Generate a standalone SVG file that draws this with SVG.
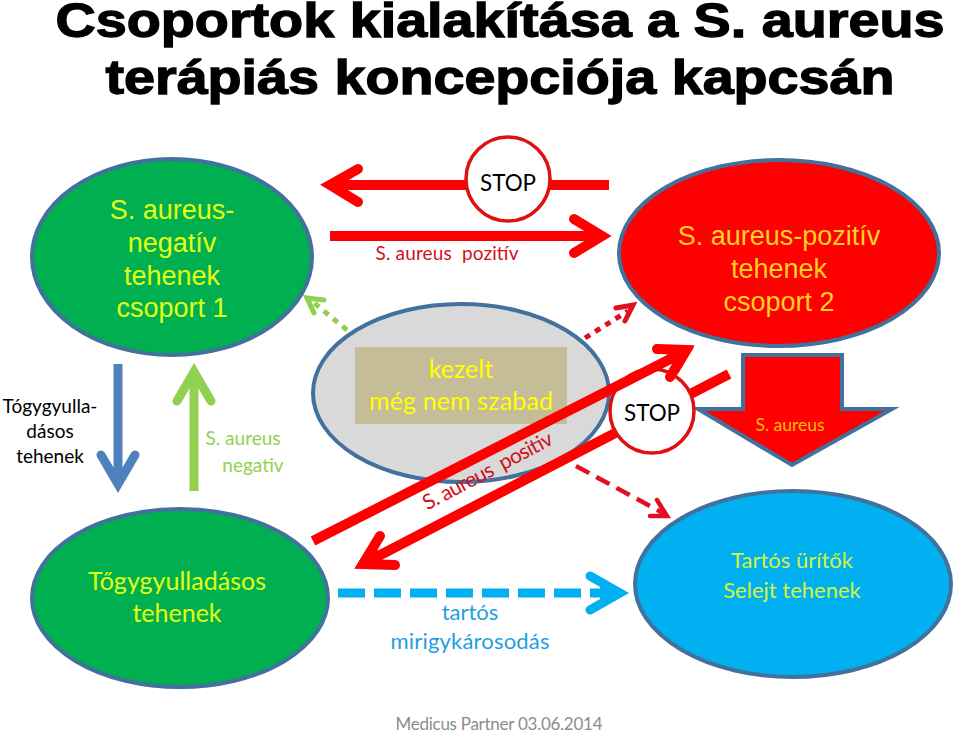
<svg xmlns="http://www.w3.org/2000/svg" width="959" height="733" viewBox="0 0 959 733">
<defs><style>
text{text-anchor:middle}
.t{font:bold 48px "Liberation Sans",Arial,sans-serif;fill:#000;stroke:#000;stroke-width:1.3}
.a{font:27px "Liberation Sans",Arial,sans-serif}
.c{font-family:Lato,"Open Sans",sans-serif}
.e{stroke:#41719c;stroke-width:4}
.r{fill:none;stroke:#f00;stroke-width:10}
.h{fill:none;stroke-linecap:round;stroke-linejoin:miter;stroke-miterlimit:10}
.s{fill:#fff;stroke:#e01010;stroke-width:3.5}
</style></defs>
<rect width="959" height="733" fill="#fff"/>
<text class="t" x="500" y="37" textLength="889" lengthAdjust="spacingAndGlyphs">Csoportok kialakítása a S. aureus</text>
<text class="t" x="500" y="94" textLength="789" lengthAdjust="spacingAndGlyphs">terápiás koncepciója kapcsán</text>

<g id="connectors">
<path class="r" d="M609 185H330"/>
<path class="h" stroke="#f00" stroke-width="10" d="M358 169L330 185L358 202"/>
<path d="M322 185L345 172V198Z" fill="#f00"/>
<path class="r" d="M330 236H602"/>
<path class="h" stroke="#f00" stroke-width="10" d="M574 219L602 236L574 253"/>
<path d="M610 236L587 223V249Z" fill="#f00"/>
<path fill="none" stroke="#92d050" stroke-width="5" stroke-dasharray="6 6" d="M347 330L313 302"/>
<path class="h" stroke="#92d050" stroke-width="5" d="M324 300L307 298L314 313"/>
<path fill="none" stroke="#e01020" stroke-width="5" stroke-dasharray="6 6" d="M585 338L628 311"/>
<path class="h" stroke="#e01020" stroke-width="5" d="M616 308L633 305L625 321"/>
<path fill="none" stroke="#4f81bd" stroke-width="9" d="M118 364V484"/>
<path class="h" stroke="#4f81bd" stroke-width="9" d="M101 455L118 484L135 455"/>
<path d="M118 491L107 471H129Z" fill="#4f81bd"/>
<path fill="none" stroke="#92d050" stroke-width="9" d="M194 491V371"/>
<path class="h" stroke="#92d050" stroke-width="9" d="M177 401L194 372L211 401"/>
<path d="M194 364L183 384H205Z" fill="#92d050"/>
</g>

<g id="node-green1"><ellipse class="e" cx="172" cy="257" rx="140" ry="98" fill="#00b050"/>
<text class="a" fill="#e2ff14" x="172" y="219">S. aureus-</text><text class="a" fill="#e2ff14" x="172" y="252">negatív</text><text class="a" fill="#e2ff14" x="172" y="285">tehenek</text><text class="a" fill="#e2ff14" x="172" y="317">csoport 1</text></g>

<g id="node-red"><ellipse class="e" cx="779" cy="253" rx="160" ry="93" fill="#f00"/>
<text class="a" fill="#ffd21f" x="779" y="245">S. aureus-pozitív</text><text class="a" fill="#ffd21f" x="779" y="278">tehenek</text><text class="a" fill="#ffd21f" x="779" y="311">csoport 2</text></g>

<g id="node-stop1"><circle class="s" cx="508" cy="179" r="42"/><text class="c" x="508" y="191" font-size="24" fill="#000" textLength="56" lengthAdjust="spacingAndGlyphs">STOP</text></g>
<text class="c" x="447" y="260" font-size="19" fill="#d01020" textLength="143" xml:space="preserve">S. aureus  pozitív</text>

<g id="node-gray"><ellipse class="e" cx="461" cy="393" rx="148" ry="89" fill="#d9d9d9"/>
<rect x="355" y="347" width="212" height="77" fill="#c4bd97"/>
<text class="c" x="461" y="378" font-size="25" fill="#ffff00">kezelt</text><text class="c" x="461" y="410" font-size="25" fill="#ffff00" textLength="184">még nem szabad</text></g>

<g id="node-green2"><ellipse class="e" cx="180" cy="598" rx="148" ry="89" fill="#00b050"/>
<text class="c" x="177" y="590" font-size="25" fill="#e2ff14" textLength="178">Tőgygyulladásos</text><text class="c" x="177" y="622" font-size="25" fill="#e2ff14">tehenek</text></g>

<g id="node-blue"><ellipse class="e" cx="793" cy="584" rx="158" ry="93" fill="#00b0f0"/>
<text class="c" x="792" y="568" font-size="22" fill="#d4f53a">Tartós ürítők</text><text class="c" x="792" y="598" font-size="22" fill="#d4f53a">Selejt tehenek</text></g>

<g id="node-bigarrow"><path d="M743 355H842V409H892L792 465L698 409H743Z" fill="#f00" stroke="#41719c" stroke-width="4"/>
<text class="c" x="790" y="431" font-size="17.5" fill="#ffc000">S. aureus</text></g>

<g id="long-arrows">
<path class="r" d="M729 374L363 564"/>
<path class="h" stroke="#f00" stroke-width="10" d="M380 536L363 564L395 565"/>
<path d="M356 567L372 540L386 566Z" fill="#f00"/>
<path fill="none" stroke="#e01020" stroke-width="4.5" stroke-dasharray="15 8" d="M576 466L663 513"/>
<path class="h" stroke="#e01020" stroke-width="4.5" d="M657 500L667 516L650 516"/>
<path fill="none" stroke="#00b0f0" stroke-width="9" stroke-dasharray="27 9" d="M338 593H620"/>
<path class="h" stroke="#00b0f0" stroke-width="9" d="M590 576L620 593L590 610"/>
<path d="M627 593L600 578V608Z" fill="#00b0f0"/>
</g>

<g id="node-stop2"><circle class="s" cx="652" cy="411" r="42"/><text class="c" x="652" y="421" font-size="24" fill="#000" textLength="56" lengthAdjust="spacingAndGlyphs">STOP</text></g>

<g id="long-arrow-up">
<path class="r" d="M313 541L684 352"/>
<path class="h" stroke="#f00" stroke-width="10" d="M657 349L686 350L670 377"/>
<path d="M694 347L664 348L678 374Z" fill="#f00"/>
</g>

<g id="labels" class="c">
<text x="50" y="413" font-size="19" fill="#000">Tógygyulla-</text><text x="50" y="438" font-size="19" fill="#000">dásos</text><text x="50" y="463" font-size="19" fill="#000">tehenek</text>
<text x="243" y="445" font-size="19" fill="#92d050">S. aureus</text><text x="253" y="472" font-size="19" fill="#92d050">negativ</text>
<text transform="translate(491 477) rotate(-27.8)" font-size="21" fill="#d01020" x="0" y="0" textLength="144" xml:space="preserve">S. aureus  positiv</text>
<text x="470" y="620" font-size="22" fill="#1f9fe0">tartós</text><text x="470" y="649" font-size="22" fill="#1f9fe0" textLength="159">mirigykárosodás</text>
<text x="499" y="730" font-size="17" fill="#8c8c8c" textLength="207">Medicus Partner 03.06.2014</text>
</g>
</svg>
